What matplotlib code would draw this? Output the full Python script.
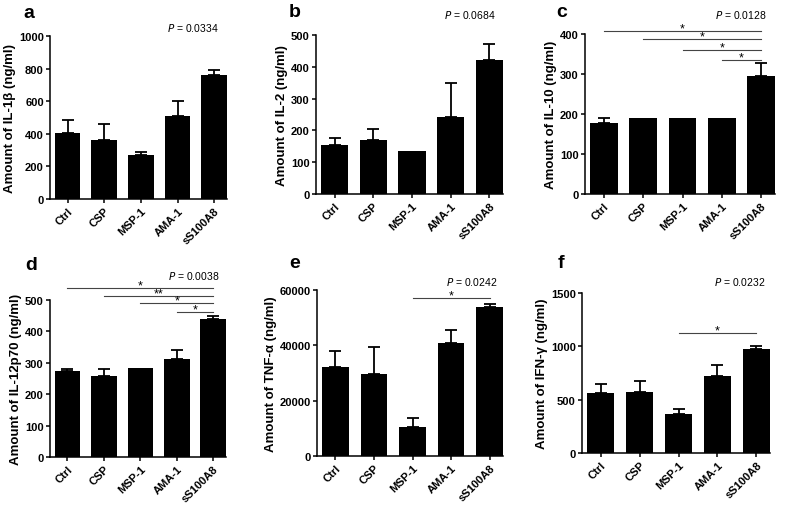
import numpy as np
import matplotlib
matplotlib.use("Agg")
import matplotlib.pyplot as plt

plt.rcParams["font.family"] = ["Liberation Sans", "DejaVu Sans"]

groups = ["Ctrl", "CSP", "MSP-1", "AMA-1", "sS100A8"]

il1b_mean = [402, 359, 271, 510, 763]
il1b_err = [80, 104, 19, 92, 27]
il2_mean = [155, 169, 134, 243, 422]
il2_err = [21, 34, 0, 107, 51]
il10_mean = [178, 191, 191, 191, 296]
il10_err = [12, 0, 0, 0, 31]
il12_mean = [274, 258, 282, 313, 441]
il12_err = [7, 23, 0, 29, 8]
tnf_mean = [32000, 29800, 10500, 40700, 53700]
tnf_err = [5900, 9700, 3400, 4800, 1200]
ifn_mean = [561, 574, 368, 720, 976]
ifn_err = [84, 99, 44, 109, 25]

ylabels = ["Amount of IL-1\u03b2 (ng/ml)", "Amount of IL-2 (ng/ml)",
           "Amount of IL-10 (ng/ml)", "Amount of IL-12p70 (ng/ml)",
           "Amount of TNF-\u03b1 (ng/ml)", "Amount of IFN-\u03b3 (ng/ml)"]
letters = ["a", "b", "c", "d", "e", "f"]
p_values = ["0.0334", "0.0684", "0.0128", "0.0038", "0.0242", "0.0232"]
yticks = [[0, 200, 400, 600, 800, 1000], [0, 100, 200, 300, 400, 500],
          [0, 100, 200, 300, 400], [0, 100, 200, 300, 400, 500],
          [0, 20000, 40000, 60000], [0, 500, 1000, 1500]]

# significance brackets: (start group, height, label), all end at sS100A8
sig_c = [(0, 408, "*"), (1, 387, "*"), (2, 361, "*"), (3, 336, "*")]
sig_d = [(0, 539, "*"), (1, 513, "**"), (2, 489, "*"), (3, 462, "*")]
sig_e = [(2, 57200, "*")]
sig_f = [(2, 1126, "*")]

means = [il1b_mean, il2_mean, il10_mean, il12_mean, tnf_mean, ifn_mean]
errs = [il1b_err, il2_err, il10_err, il12_err, tnf_err, ifn_err]
sigs = [[], [], sig_c, sig_d, sig_e, sig_f]

W, H = 785, 506
# axes boxes in pixels: left, right, top, bottom
boxes = [(50, 227, 37, 200), (316, 503, 36, 195), (585, 775, 35, 195),
         (50, 226, 301, 458), (317, 503, 291, 457), (582, 770, 294, 454)]
letter_pos = [(23, 18), (289, 17), (556, 17), (25, 270), (289, 268), (558, 268)]
p_pos = [(193, 28), (470, 15), (741, 15), (194, 276), (472, 282), (740, 282)]

fig = plt.figure(figsize=(W / 100, H / 100), dpi=100)

for i in range(6):
    l, r, t, b = boxes[i]
    ax = fig.add_axes([l / W, 1 - b / H, (r - l) / W, (b - t) / H])
    x = np.arange(len(groups))
    m = np.array(means[i], dtype=float)
    e = np.array(errs[i], dtype=float)
    ax.bar(x, m, width=0.7, color="black")
    has = e > 0
    ax.errorbar(x[has], m[has], yerr=[np.zeros(has.sum()), e[has]],
                fmt="none", ecolor="black", elinewidth=1.3, capthick=1.3,
                capsize=4)
    ax.set_xlim(-0.48, 4.35)
    ax.set_ylim(yticks[i][0], yticks[i][-1])
    ax.set_yticks(yticks[i])
    ax.set_xticks(x)
    ax.set_xticklabels(groups, rotation=45, ha="right", va="top",
                       rotation_mode="anchor", fontweight="bold", fontsize=8)
    for lab in ax.get_yticklabels():
        lab.set_fontweight("bold")
        lab.set_fontsize(8)
    ax.spines["top"].set_visible(False)
    ax.spines["right"].set_visible(False)
    ax.spines["left"].set_linewidth(1.1)
    ax.spines["bottom"].set_linewidth(1.1)
    ax.tick_params(axis="both", direction="out", length=3, width=1.1, pad=1.5)
    ax.set_ylabel(ylabels[i], fontsize=9.5, fontweight="bold", labelpad=2)

    for start, h, lab in sigs[i]:
        ax.plot([start, 4], [h, h], color="#444444", lw=0.8, clip_on=False)
        ax.annotate(lab, xy=((start + 4) / 2, h), xytext=(0, -2.5),
                    textcoords="offset points", ha="center", va="bottom",
                    fontsize=9, annotation_clip=False)

    lx, ly = letter_pos[i]
    fig.text(lx / W, 1 - ly / H, letters[i], fontsize=14, fontweight="bold",
             ha="left", va="baseline")
    px, py = p_pos[i]
    fig.text(px / W, 1 - py / H, "$\\it{P}$ = " + p_values[i], fontsize=7.5,
             ha="center", va="center")

fig.savefig("out.png", dpi=100)
